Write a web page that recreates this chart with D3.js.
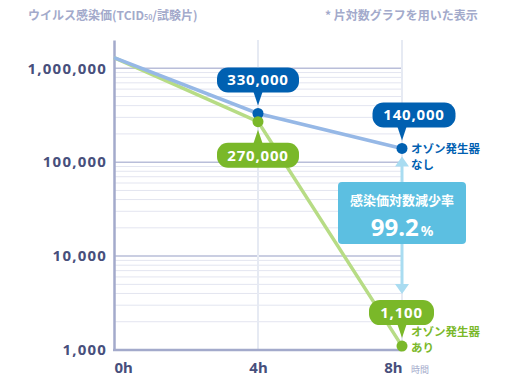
<!DOCTYPE html>
<html><head><meta charset="utf-8">
<script src="https://cdn.jsdelivr.net/npm/d3@7"></script>
<style>body{margin:0;background:#fff;} svg{display:block;font-family:"Noto Sans CJK JP","Noto Sans",sans-serif;}</style>
</head><body>
<svg id="c" width="511" height="390"></svg>
<script>
const hours = [0, 4, 8];
const xTickLabels = ["0h", "4h", "8h"];
const withoutOzone = [1300000, 330000, 140000];
const withOzone = [1300000, 270000, 1100];
const yTicks = [1000, 10000, 100000, 1000000];
const reductionRate = "99.2";

const svg = d3.select("#c");
const x = d3.scaleLinear().domain([0, 8]).range([114, 402]);
const y = d3.scaleLog().domain([1000, 2000000]).range([350, 40]);

const fmt = d3.format(",");
const axisCol = "#a3aacb", textCol = "#474f7c";
const blueDark = "#0060b1", blueLine = "#96b8e6";
const greenDark = "#7ab829", greenLine = "#b7dc85";

// minor grid
const minor = [];
for (let e = 3; e < 6; e++) for (let m = 2; m <= 9; m++) minor.push(m * Math.pow(10, e));
svg.append("g").selectAll("line").data(minor).join("line")
  .attr("x1", x(0)).attr("x2", x(8)).attr("y1", d => y(d)).attr("y2", d => y(d))
  .attr("stroke", "#e3e5f0").attr("stroke-width", 1);
// major grid
svg.append("g").selectAll("line").data(yTicks.slice(1)).join("line")
  .attr("x1", x(0)).attr("x2", x(8)).attr("y1", d => y(d)).attr("y2", d => y(d))
  .attr("stroke", "#b9bed9").attr("stroke-width", 1.5);
// vertical grid
svg.append("g").selectAll("line").data([4, 8]).join("line")
  .attr("x1", d => x(d)).attr("x2", d => x(d)).attr("y1", 40).attr("y2", 350)
  .attr("stroke", "#e6eaf3").attr("stroke-width", 2);

// axes
const yAxis = d3.axisLeft(y).tickValues(yTicks).tickFormat(fmt).tickSize(0).tickPadding(7);
const gy = svg.append("g").attr("transform", `translate(${x(0)},0)`).call(yAxis);
gy.select(".domain").attr("stroke", axisCol).attr("stroke-width", 2.5);
gy.selectAll("text").attr("fill", textCol).attr("font-size", 15).attr("font-weight", "bold")
  .attr("letter-spacing", 1.2)
  .attr("font-family", "'Noto Sans',sans-serif");
svg.append("line").attr("x1", x(0) - 1).attr("x2", x(8)).attr("y1", y(1000)).attr("y2", y(1000))
  .attr("stroke", axisCol).attr("stroke-width", 2.5);

const xAxis = d3.axisBottom(x).tickValues(hours).tickFormat((d, i) => xTickLabels[i]).tickSize(0).tickPadding(12);
const gx = svg.append("g").attr("transform", `translate(0,${y(1000)})`).call(xAxis);
gx.select(".domain").remove();
gx.selectAll("text").attr("fill", textCol).attr("font-size", 15).attr("font-weight", "bold")
  .attr("font-family", "'Noto Sans',sans-serif")
  .attr("text-anchor", (d, i) => i === 0 ? "start" : i === 2 ? "end" : "middle");
svg.append("text").attr("x", 411).attr("y", 373).text("時間")
  .attr("fill", "#a3aacb").attr("font-size", 9);

// titles
svg.append("text").attr("x", 28).attr("y", 20).attr("fill", "#a3aacb").attr("font-size", 12).attr("font-weight", "bold")
  .html('ウイルス感染価(TCID<tspan font-size="7">50</tspan>/試験片)');
svg.append("text").attr("x", 325).attr("y", 20).attr("fill", "#a3aacb").attr("font-size", 12).attr("font-weight", "bold")
  .text("* 片対数グラフを用いた表示");

// lines
const line = d3.line().x((d, i) => x(hours[i])).y(d => y(d));
svg.append("path").datum(withOzone).attr("d", line).attr("fill", "none").attr("stroke", greenLine).attr("stroke-width", 3.5);
svg.append("path").datum(withoutOzone).attr("d", line).attr("fill", "none").attr("stroke", blueLine).attr("stroke-width", 3.5);

// reduction arrow
const arrowCol = "#a9dcf1";
const ax = x(8);
const yTop = y(withoutOzone[2]) + 8, yBot = y(withOzone[2]) - 52;
svg.append("line").attr("x1", ax).attr("x2", ax).attr("y1", yTop + 6).attr("y2", yBot - 6)
  .attr("stroke", arrowCol).attr("stroke-width", 3);
svg.append("path").attr("d", `M${ax},${yTop} l-7,10 l14,0 z`).attr("fill", arrowCol);
svg.append("path").attr("d", `M${ax},${yBot} l-7,-10 l14,0 z`).attr("fill", arrowCol);

// reduction box
svg.append("rect").attr("x", 338).attr("y", 182).attr("width", 128).attr("height", 62).attr("rx", 4)
  .attr("fill", "#5cbfe1");
svg.append("text").attr("x", 402).attr("y", 205).attr("text-anchor", "middle").attr("fill", "#fff")
  .attr("font-size", 13).attr("font-weight", "bold").text("感染価対数減少率");
svg.append("text").attr("x", 402).attr("y", 236).attr("text-anchor", "middle").attr("fill", "#fff")
  .attr("font-weight", "bold").attr("font-family", "'Noto Sans',sans-serif")
  .html(`<tspan font-size="24">${reductionRate}</tspan><tspan font-size="14" dx="2">%</tspan>`);

// dots
svg.append("g").selectAll("circle").data(withoutOzone.slice(1)).join("circle")
  .attr("cx", (d, i) => x(hours[i + 1])).attr("cy", d => y(d)).attr("r", 5.5).attr("fill", blueDark);
svg.append("g").selectAll("circle").data(withOzone.slice(1)).join("circle")
  .attr("cx", (d, i) => x(hours[i + 1])).attr("cy", d => y(d)).attr("r", 5.5).attr("fill", greenDark);

// bubbles
function bubble(px, py, val, col, dir, offX, w) {
  const h = 25, gap = 8, tri = 13;
  const g = svg.append("g");
  const cx = px + offX;
  let top;
  if (dir === "up") {
    top = py - gap - tri - h;
    g.append("path").attr("d", `M${px - 5},${top + h - 2} L${px + 5},${top + h - 2} L${px},${py - gap} Z`).attr("fill", col);
  } else {
    top = py + gap + tri;
    g.append("path").attr("d", `M${px - 5},${top + 2} L${px + 5},${top + 2} L${px},${py + gap} Z`).attr("fill", col);
  }
  g.append("rect").attr("x", cx - w / 2).attr("y", top).attr("width", w).attr("height", h).attr("rx", 11)
    .attr("fill", col);
  g.append("text").attr("x", cx).attr("y", top + h / 2 + 5.5).attr("text-anchor", "middle").attr("fill", "#fff")
    .attr("font-size", 15).attr("font-weight", "bold").attr("font-family", "'Noto Sans',sans-serif")
    .attr("letter-spacing", 0.8).text(fmt(val));
}
bubble(x(4), y(withoutOzone[1]), withoutOzone[1], blueDark, "up", 0, 82);
bubble(x(8), y(withoutOzone[2]), withoutOzone[2], blueDark, "up", 12, 83);
bubble(x(4), y(withOzone[1]), withOzone[1], greenDark, "down", 0, 82);
bubble(x(8), y(withOzone[2]), withOzone[2], greenDark, "up", -0.5, 65);

// series labels
function seriesLabel(px, py, lines, col) {
  const t = svg.append("text").attr("fill", col).attr("font-size", 11.5).attr("font-weight", "bold");
  lines.forEach((s, i) => t.append("tspan").attr("x", px).attr("y", py + i * 16).text(s));
}
seriesLabel(411, y(withoutOzone[2]) + 5, ["オゾン発生器", "なし"], blueDark);
seriesLabel(411, y(withOzone[2]) - 10, ["オゾン発生器", "あり"], greenDark);
</script>
</body></html>
